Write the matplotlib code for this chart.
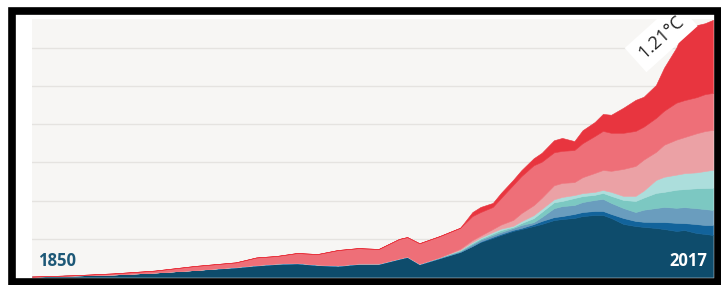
import numpy as np
import matplotlib
matplotlib.use("Agg")
import matplotlib.pyplot as plt
from matplotlib.patches import Rectangle

# warming contributions by source (deg C), stacked bottom to top
years = [1850, 1860, 1870, 1880, 1890, 1900, 1905, 1910, 1915, 1920, 1925, 1930, 1935,
         1940, 1942, 1945, 1950, 1955, 1958, 1960, 1963, 1965, 1968, 1970, 1973, 1975,
         1978, 1980, 1983, 1985, 1988, 1990, 1992, 1995, 1998, 2000, 2003, 2005, 2008,
         2010, 2013, 2015, 2017]

navy = [.002, .007, .012, .021, .033, .045, .054, .061, .064, .056, .052, .061, .061,
        .085, .094, .060, .089, .118, .146, .165, .184, .198, .217, .226, .240, .250,
        .268, .273, .278, .287, .292, .292, .278, .250, .240, .236, .231, .226, .217,
        .221, .207, .203, .198]
mid_blue = [0] * 19 + [.002, .005, .005, .005, .005, .009, .014, .014, .014, .019, .019,
                       .019, .019, .019, .028, .024, .024, .028, .033, .038, .033, .042,
                       .042, .047]
steel = [0] * 5 + [.003] * 12 + [.004, .009, .009, .009, .009, .009, .014, .009, .019,
                                 .042, .047, .042, .047, .052, .057, .052, .047, .042,
                                 .057, .066, .071, .071, .075, .075, .075, .071]
teal = [0] * 16 + [.002, .004, .005, .005, .007, .009, .005, .009, .019, .024, .028,
                   .024, .033, .028, .024, .028, .033, .038, .052, .057, .071, .071,
                   .085, .085, .094, .099, .104]
light_teal = [0] * 17 + [.002, .005, .005, .007, .007, .005, .009, .014, .014, .014,
                         .019, .014, .014, .014, .014, .019, .019, .024, .033, .061,
                         .071, .071, .075, .075, .080, .085]
light_pink = [0] * 17 + [.005, .009, .009, .014, .019, .028, .038, .047, .052, .066,
                         .066, .061, .075, .089, .094, .099, .127, .141, .146, .132,
                         .151, .165, .170, .184, .188, .188]
salmon = [0, .001, .005, .009, .019, .021, .035, .035, .046, .049, .072, .072, .068,
          .091, .091, .096, .099, .099, .113, .111, .104, .125, .165, .174, .188, .170,
          .155, .151, .151, .160, .174, .184, .179, .170, .165, .155, .160, .160, .174,
          .174, .170, .174, .174]
red = [0] * 18 + [.019, .024, .019, .024, .024, .028, .033, .042, .057, .061, .042,
                  .061, .066, .080, .085, .118, .146, .141, .155, .203, .259, .339,
                  .339, .334, .344]

layers = [navy, mid_blue, steel, teal, light_teal, light_pink, salmon, red]
colors = ["#0e4c6c", "#12639b", "#6a9dbe", "#7cc8c2", "#acdedc", "#eba1a5",
          "#ee6f78", "#e8353f"]
grid_levels = [0.18, 0.36, 0.54, 0.72, 0.90, 1.08]

W, H = 721, 285
fig = plt.figure(figsize=(W / 100, H / 100), dpi=100, facecolor="white")
ax = fig.add_axes([32 / W, (H - 277) / H, (713 - 32) / W, (277 - 19) / H])
ax.set_facecolor("#f7f6f4")

for g in grid_levels:
    ax.axhline(g, color="#e5e3e0", lw=1, zorder=0)

polys = ax.stackplot(years, *layers, colors=colors, zorder=2)
for p, c in zip(polys, colors):
    p.set_edgecolor(c)
    p.set_linewidth(0.4)

ax.set_xlim(1850, 2017)
ax.set_ylim(0, 1.215)
ax.set_xticks([])
ax.set_yticks([])
for s in ax.spines.values():
    s.set_visible(False)

# end-value label
ax.text(2004.3, 1.13, "1.21°C", rotation=42, ha="center", va="center", fontsize=13,
        color="#222222", family="Open Sans", zorder=5,
        bbox=dict(boxstyle="square,pad=0.4", fc="white", ec="none"))

fig.text(38 / W, 1 - 266 / H, "1850", ha="left", va="baseline", fontsize=12,
         fontweight="bold", family="Open Sans", color="#1d5877")
fig.text(707 / W, 1 - 266 / H, "2017", ha="right", va="baseline", fontsize=12,
         fontweight="bold", family="Open Sans", color="white")

# black frame around the picture
frame = Rectangle((11.5 / W, 1 - 282 / H), (717.5 - 11.5) / W, (282 - 11) / H,
                  transform=fig.transFigure, fill=False, ec="black", lw=5.5, zorder=10)
fig.add_artist(frame)

fig.savefig("out.png", dpi=100, facecolor="white")
